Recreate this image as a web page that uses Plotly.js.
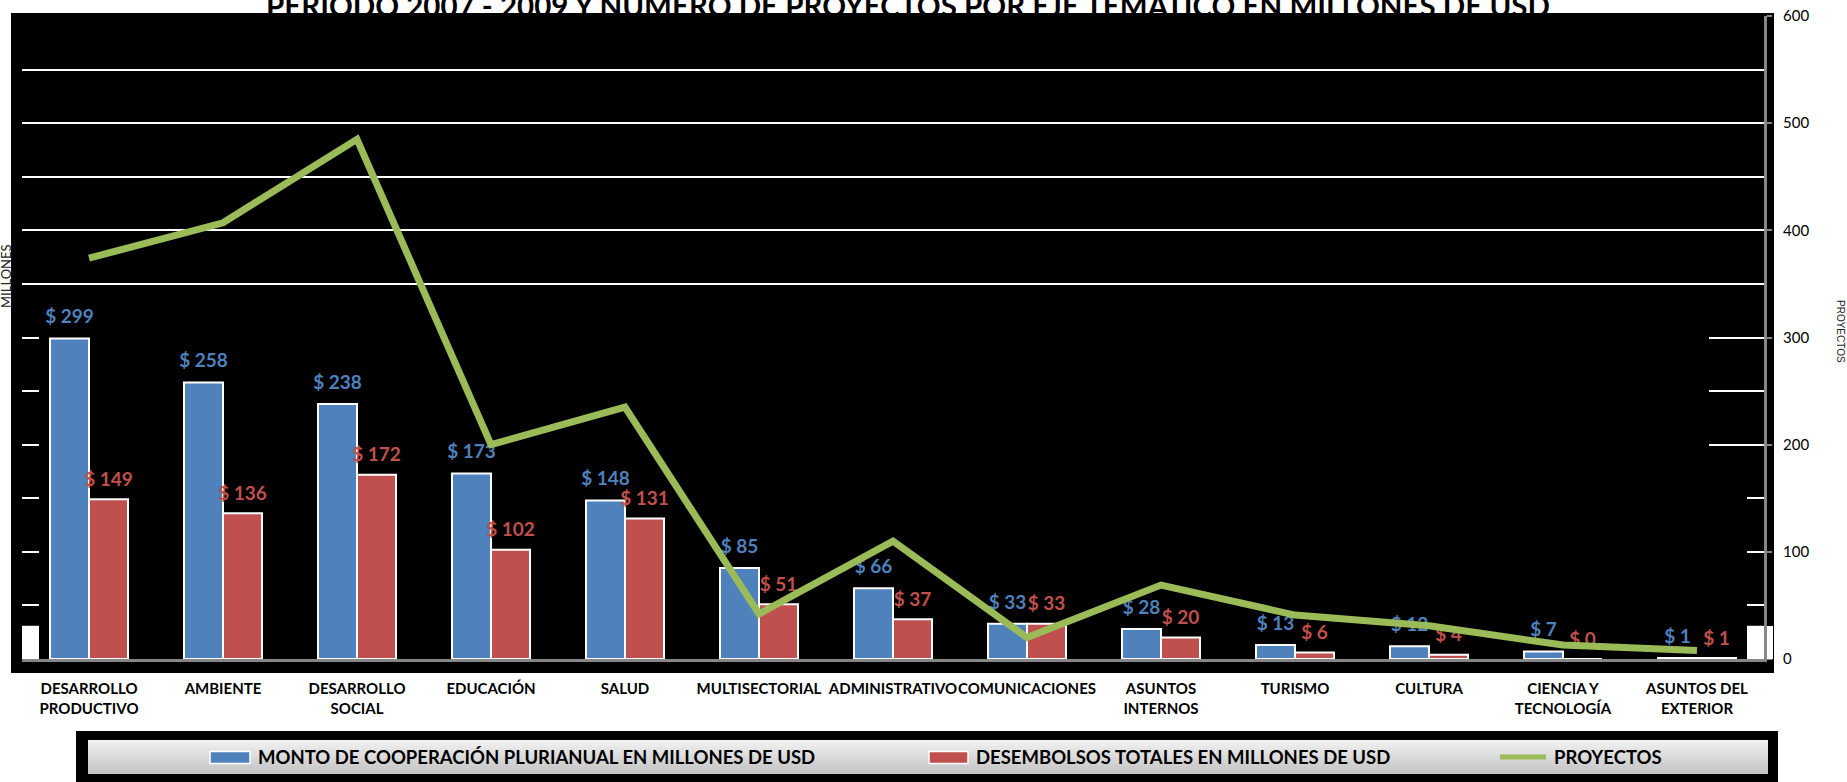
<!DOCTYPE html>
<html><head><meta charset="utf-8">
<script src="https://cdn.plot.ly/plotly-3.0.1.min.js"></script>
<style>html,body{margin:0;padding:0;background:#fff;}#chart{width:1847px;height:782px;}</style>
</head><body><div id="chart"></div>
<script>
// ---- data ----
const categories = ['DESARROLLO<br>PRODUCTIVO','AMBIENTE','DESARROLLO<br>SOCIAL','EDUCACIÓN','SALUD','MULTISECTORIAL','ADMINISTRATIVO','COMUNICACIONES','ASUNTOS<br>INTERNOS','TURISMO','CULTURA','CIENCIA Y<br>TECNOLOGÍA','ASUNTOS DEL<br>EXTERIOR'];
const montoCooperacion = [299,258,238,173,148,85,66,33,28,13,12,7,1];
const desembolsosTotales = [149,136,172,102,131,51,37,33,20,6,4,0,1];
const proyectos = [374,407,485,200,235,42,110,20,69,41,31,13,8];
const seriesNames = ['MONTO DE COOPERACIÓN PLURIANUAL EN MILLONES DE USD','DESEMBOLSOS TOTALES EN MILLONES DE USD','PROYECTOS'];
const rightTicks = [0,100,200,300,400,500,600];
const chartTitle = 'PERIODO 2007 - 2009 Y NUMERO DE PROYECTOS POR EJE TEMATICO EN MILLONES DE USD';

// ---- geometry helpers (pixels -> paper / axis units) ----
const W=1847, H=782, ML=22, MR=83, MT=16, MB=123;
const PW=W-ML-MR, PH=H-MT-MB;
const px = x => (x-ML)/PW;
const py = y => 1-(y-MT)/PH;
const NC = categories.length;
const ax = p => (p-ML)/PW*NC - 0.5;

const BLUE='#4F81BD', RED='#C0504D', GREEN='#9BBB59';
const BARGAP=0.418;
const idx = categories.map((c,i)=>i);
const off = (1-BARGAP)/4;

const labelFont = {family:'Lato', size:19, weight:'bold'};
const traces = [
  {type:'bar', x:idx, y:montoCooperacion, name:seriesNames[0], marker:{color:BLUE, line:{color:'#fff', width:2}}, hoverinfo:'y'},
  {type:'bar', x:idx, y:desembolsosTotales, name:seriesNames[1], marker:{color:RED, line:{color:'#fff', width:2}}, hoverinfo:'y'},
  {type:'scatter', mode:'markers+text', x:idx.map(i=>i-off), y:montoCooperacion, text:montoCooperacion.map(v=>'$ '+v),
   textposition:'top center', marker:{size:15, opacity:0}, textfont:Object.assign({color:BLUE}, labelFont), hoverinfo:'skip', cliponaxis:false},
  {type:'scatter', mode:'markers+text', x:idx.map(i=>i+off), y:desembolsosTotales, text:desembolsosTotales.map(v=>'$ '+v),
   textposition:'top center', marker:{size:12, opacity:0}, textfont:Object.assign({color:RED}, labelFont), hoverinfo:'skip', cliponaxis:false},
  {type:'scatter', mode:'lines', x:idx, y:proyectos, yaxis:'y2', name:seriesNames[2], line:{color:GREEN, width:7}}
];

const shapes = [
  // outer black chart frame
  {type:'rect', xref:'paper', yref:'paper', x0:px(11), x1:px(1774), y0:py(673), y1:py(13), fillcolor:'#000', line:{width:0}, layer:'below'},
  // black patches hiding lower gridlines
  {type:'rect', xref:'x', yref:'y', x0:ax(39), x1:ax(1709), y0:-10, y1:312, fillcolor:'#000', line:{width:0}, layer:'between'},
  {type:'rect', xref:'x', yref:'y', x0:ax(1709), x1:ax(1747), y0:-10, y1:172, fillcolor:'#000', line:{width:0}, layer:'between'},
  // white corner patches
  {type:'rect', xref:'x', yref:'y', x0:ax(20), x1:ax(39), y0:0, y1:31, fillcolor:'#fff', line:{width:0}, layer:'between'},
  {type:'rect', xref:'x', yref:'y', x0:ax(1747), x1:12.5, y0:0, y1:31, fillcolor:'#fff', line:{width:0}, layer:'between'},
  {type:'rect', xref:'paper', yref:'paper', x0:px(1767), x1:px(1773), y0:py(659), y1:py(626), fillcolor:'#fff', line:{width:0}, layer:'above'},
  // legend box
  {type:'rect', xref:'paper', yref:'paper', x0:px(76), x1:px(1778), y0:py(790), y1:py(731), fillcolor:'#000', line:{width:0}, layer:'above'}
];
// gradient bands for legend inner box
const bandTop=740, bandBot=774, nb=12;
for(let k=0;k<nb;k++){
  const c = Math.round(240 - (240-196)*k/(nb-1));
  const t = bandTop+(bandBot-bandTop)*k/nb;
  const b = Math.min(bandBot, bandTop+(bandBot-bandTop)*(k+1)/nb + 1);
  shapes.push({type:'rect', xref:'paper', yref:'paper', x0:px(88), x1:px(1768), y0:py(b), y1:py(t),
    fillcolor:`rgb(${c},${c},${c})`, line:{width:0}, layer:'above'});
}
// legend swatches
shapes.push({type:'rect', xref:'paper', yref:'paper', x0:px(210), x1:px(250), y0:py(763.5), y1:py(751.5), fillcolor:BLUE, line:{color:'#fff', width:1.5}, layer:'above'});
shapes.push({type:'rect', xref:'paper', yref:'paper', x0:px(929), x1:px(968), y0:py(763.5), y1:py(751.5), fillcolor:RED, line:{color:'#fff', width:1.5}, layer:'above'});
shapes.push({type:'line', xref:'paper', yref:'paper', x0:px(1500), x1:px(1546), y0:py(757), y1:py(757), line:{color:GREEN, width:5}, layer:'above'});

const legFont = {family:'Lato', size:18.5, color:'#000', weight:'bold'};
const annotations = [
  {xref:'paper', yref:'paper', x:px(908), y:py(5), text:chartTitle, showarrow:false, xanchor:'center', yanchor:'middle',
   font:{family:'Lato', size:29.5, color:'#000', weight:'bold'}},
  {xref:'paper', yref:'paper', x:px(256), y:py(757), text:seriesNames[0], showarrow:false, xanchor:'left', yanchor:'middle', font:legFont},
  {xref:'paper', yref:'paper', x:px(974), y:py(757), text:seriesNames[1], showarrow:false, xanchor:'left', yanchor:'middle', font:legFont},
  {xref:'paper', yref:'paper', x:px(1552), y:py(757), text:seriesNames[2], showarrow:false, xanchor:'left', yanchor:'middle', font:legFont},
  {xref:'paper', yref:'paper', x:px(6), y:py(276), text:'MILLONES', showarrow:false, textangle:-90, xanchor:'center', yanchor:'middle',
   font:{family:'Lato', size:13, color:'#222'}},
  {xref:'paper', yref:'paper', x:px(1841), y:py(331), text:'PROYECTOS', showarrow:false, textangle:90, xanchor:'center', yanchor:'middle',
   font:{family:'Liberation Sans Narrow, Liberation Sans', size:10, color:'#222'}}
];

const layout = {
  width:W, height:H,
  margin:{l:ML, r:MR, t:MT, b:MB, pad:0},
  paper_bgcolor:'#fff', plot_bgcolor:'#000',
  showlegend:false,
  barmode:'group', bargap:BARGAP, bargroupgap:0,
  xaxis:{range:[-0.5, NC-0.5], tickvals:idx, ticktext:categories, tickangle:0, showgrid:false, zeroline:false,
    showline:true, linecolor:'#868686', linewidth:3, ticks:'', ticklabelstandoff:14,
    tickfont:{family:'Lato', size:15, color:'#000', weight:'bold'}, fixedrange:true},
  yaxis:{range:[0,600], tick0:0, dtick:50, showticklabels:false, showgrid:true, gridcolor:'#fff', gridwidth:2,
    zeroline:false, showline:false, ticks:'', fixedrange:true},
  yaxis2:{range:[0,600], overlaying:'y', side:'right', anchor:'x', tickvals:rightTicks, showgrid:false, zeroline:false,
    showline:true, linecolor:'#868686', linewidth:3, ticks:'outside', ticklen:5, tickwidth:2, tickcolor:'#868686',
    ticklabelstandoff:8, tickfont:{family:'Lato', size:15, color:'#000'}, fixedrange:true},
  shapes:shapes, annotations:annotations
};

Plotly.newPlot('chart', traces, layout, {displayModeBar:false, staticPlot:true});
</script>
</body></html>
